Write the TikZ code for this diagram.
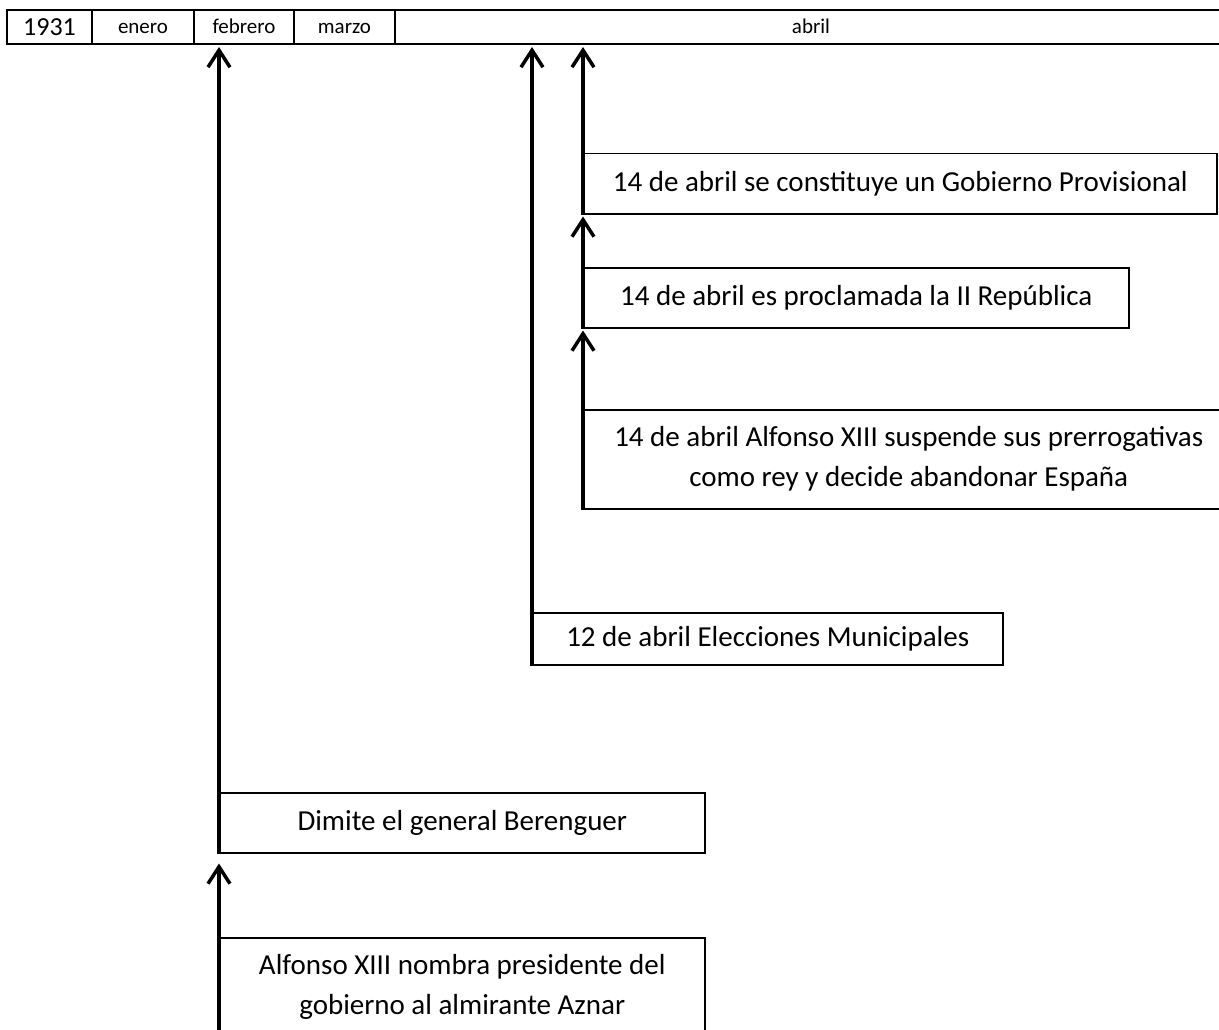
\documentclass[tikz,border=0pt]{standalone}
\usepackage{fontspec}
\setmainfont{Carlito}
\usetikzlibrary{arrows.meta}

\begin{document}
\begin{tikzpicture}[x=1pt,y=-1pt,
  thick,cell node/.style={draw,line width=2pt,inner sep=0pt,minimum height=34pt,text height=16pt,text depth=2pt,anchor=north west,font=\fontsize{21}{25}\selectfont},
  event node/.style={draw,line width=1.5pt,inner sep=0pt,anchor=north west,align=center,font=\fontsize{29}{40}\selectfont}]

  \useasboundingbox (0,0) rectangle (1219,1030);
  \clip (0,0) rectangle (1219,1030);

  % months bar
  \node[cell node,minimum width=85pt,text height=20pt,text depth=3pt,font=\fontsize{26}{30}\selectfont] (1) at (6,9) {1931};
  \node[cell node,minimum width=102pt] (2) at (91,9) {enero};
  \node[cell node,minimum width=100pt] (3) at (193,9) {febrero};
  \node[cell node,minimum width=101pt] (4) at (293,9) {marzo};
  \node[cell node,minimum width=832pt] (5) at (394,9) {abril};

  % events
  \node[event node,minimum width=633pt,minimum height=60pt] (6) at (583,153) {14 de abril se constituye un Gobierno Provisional};
  \node[event node,minimum width=545pt,minimum height=60pt] (7) at (583,267) {14 de abril es proclamada la II República};
  \node[event node,minimum width=650pt,minimum height=99pt] (8) at (583,409) {14 de abril Alfonso XIII suspende sus prerrogativas\\como rey y decide abandonar España};
  \node[event node,minimum width=470pt,minimum height=52pt] (9) at (532,612) {12 de abril Elecciones Municipales};
  \node[event node,minimum width=485pt,minimum height=60pt] (10) at (219,792) {Dimite el general Berenguer};
  \node[event node,minimum width=485pt,minimum height=98pt] (11) at (219,937) {Alfonso XIII nombra presidente del\\gobierno al almirante Aznar};

  \path[line width=3.5pt,-{Straight Barb[length=17pt,width=22pt]},shorten >=2pt]
   (6.south west) edge (6.south west |- 5.south)
   (7.south west) edge (6.south west)
   (8.south west) edge (7.south west)
   (9.south west) edge (9.south west |- 5.south)
   (10.south west) edge (10.south west |- 5.south)
   (11.south west) edge[shorten >=10pt] (10.south west);
\end{tikzpicture}
\end{document}
